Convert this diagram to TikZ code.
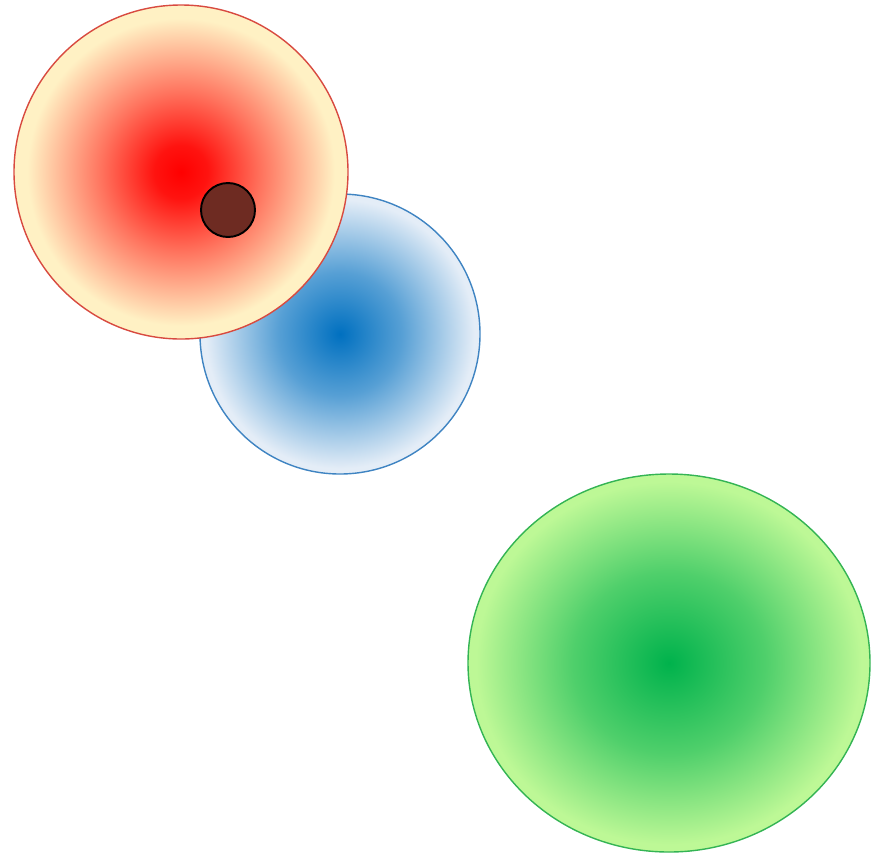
\documentclass[tikz,border=0pt]{standalone}
\usetikzlibrary{shadings}

\definecolor{redrim}{HTML}{D84A40}
\definecolor{paleyel}{HTML}{FFF1C4}
\definecolor{bluecore}{HTML}{0070C0}
\definecolor{bluerim}{HTML}{3F84C2}
\definecolor{blueedge}{HTML}{E4EDF7}
\definecolor{greencore}{HTML}{00B24C}
\definecolor{greenrim}{HTML}{34B454}
\definecolor{greenedge}{HTML}{BDF896}
\definecolor{dotfill}{HTML}{6E2B22}

\pgfdeclareradialshading{redglow}{\pgfpoint{0bp}{0bp}}{%
  color(0bp)=(red); color(4bp)=(red!92!paleyel); color(12bp)=(red!52!paleyel);
  color(23bp)=(paleyel); color(50bp)=(paleyel)}
\pgfdeclareradialshading{blueglow}{\pgfpoint{0bp}{0bp}}{%
  color(0bp)=(bluecore); color(11bp)=(bluecore!62!blueedge);
  color(24bp)=(blueedge); color(50bp)=(blueedge)}
\pgfdeclareradialshading{greenglow}{\pgfpoint{0bp}{0bp}}{%
  color(0bp)=(greencore); color(12bp)=(greencore!58!greenedge);
  color(24bp)=(greenedge); color(50bp)=(greenedge)}

\newcommand{\ball}[5]{
  \shade[shading=#4] (#1) ellipse (#2 and #3);
  \draw[#5, line width=0.8pt] (#1) ellipse (#2 and #3);
}

\begin{document}
\begin{tikzpicture}[x=0.02cm, y=-0.02cm]

  \useasboundingbox (0,0) rectangle (879,853);

  % --- centres ---
  \coordinate (blue) at (340,334);
  \coordinate (red) at (181,172);
  \coordinate (green) at (669,663);
  \coordinate (dot) at (228,210);

  % --- balls ---
  \ball{blue}{140}{140}{blueglow}{bluerim}
  \ball{red}{167}{167}{redglow}{redrim}
  \ball{green}{201}{189}{greenglow}{greenrim}

  % --- small dot ---
  \draw[fill=dotfill, line width=1.1pt] (dot) circle (27);

\end{tikzpicture}
\end{document}
